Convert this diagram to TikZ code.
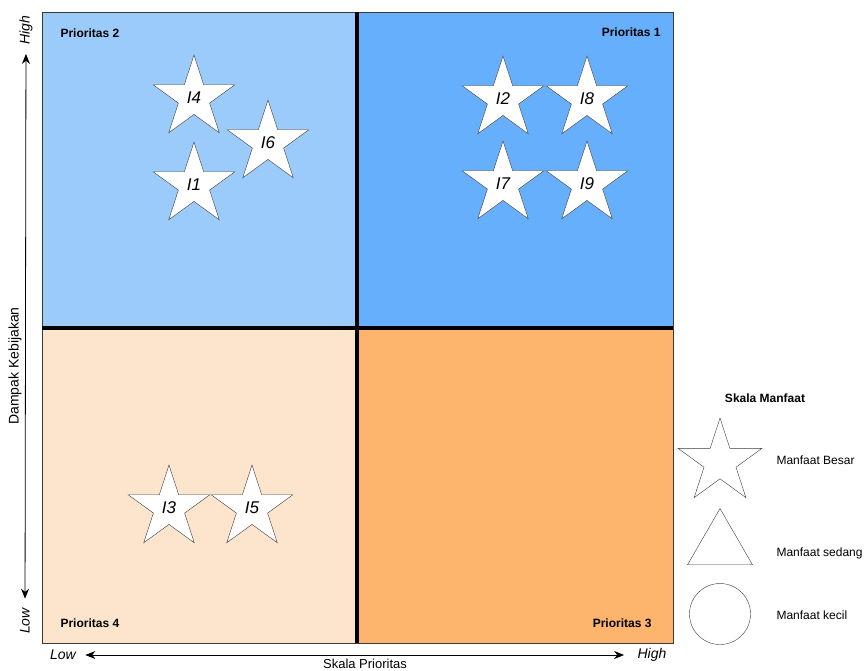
\documentclass[tikz,border=0pt]{standalone}
\usepackage{fontspec}
\setmainfont{Liberation Sans}
\usetikzlibrary{positioning,arrows.meta,shapes.geometric}

\definecolor{quadTL}{HTML}{9BCBFB}
\definecolor{quadTR}{HTML}{66AFFC}
\definecolor{quadBL}{HTML}{FDE5CD}
\definecolor{quadBR}{HTML}{FDB46C}
\definecolor{edgegray}{HTML}{3A3A3A}

\begin{document}
\begin{tikzpicture}[
    x=1pt, y=-1pt,
    starbox/.style={star, star points=5, star point ratio=2.618, draw=edgegray, fill=white, minimum size=86pt, inner sep=0pt, font=\fontsize{17}{17}\selectfont\itshape},
    prio/.style={font=\fontsize{12}{12}\selectfont\bfseries},
    axlabel/.style={font=\fontsize{14}{14}\selectfont\itshape},
    axtitle/.style={font=\fontsize{14}{14}\selectfont},
    legtext/.style={anchor=west, font=\fontsize{12}{12}\selectfont},
    axarr/.style={{Stealth[length=10pt,width=8pt]}-{Stealth[length=10pt,width=8pt]}, line width=0.8pt}
]
\useasboundingbox (0,0) rectangle (866,670);

% Quadrants
\fill[quadTL] (42,12) rectangle (357,328);
\fill[quadTR] (357,12) rectangle (673,328);
\fill[quadBL] (42,328) rectangle (357,643);
\fill[quadBR] (357,328) rectangle (673,643);
\draw[edgegray] (42,12) rectangle (673,643);
\draw[line width=3.5pt] (357,12) -- (357,643);
\draw[line width=3.5pt] (42,328) -- (673,328);

% Quadrant labels
\node[prio, anchor=west] (p2) at (57,33) {Prioritas 2};
\node[prio, anchor=east] (p1) at (664,32) {Prioritas 1};
\node[prio, anchor=west] (p4) at (57,623) {Prioritas 4};
\node[prio, anchor=east] (p3) at (655,623) {Prioritas 3};

% Indicators
\node[starbox] (i4) at (194,98) {I4};
\node[starbox] (i6) at (268,143) {I6};
\node[starbox] (i1) at (194,185) {I1};
\node[starbox] (i2) at (503,99) {I2};
\node[starbox] (i8) at (587,99) {I8};
\node[starbox] (i7) at (503,184) {I7};
\node[starbox] (i9) at (587,184) {I9};
\node[starbox] (i3) at (169,508) {I3};
\node[starbox] (i5) at (252,508) {I5};

% Axes
\node[axlabel, rotate=90] (yhigh) at (26,30) {High};
\node[axlabel, rotate=90] (ylow) at (25,621) {Low};
\node[axtitle, rotate=90] (ytitle) at (15,366) {Dampak Kebijakan};
\draw[axarr, shorten <=6pt, shorten >=6pt] (ylow) -- (yhigh);

\node[axlabel] (xlow) at (63,655) {Low};
\node[axlabel] (xhigh) at (652,655) {High};
\node[axtitle, font=\fontsize{13}{13}\selectfont, inner sep=0pt] (xtitle) at (365,663.5) {Skala Prioritas};
\draw[axarr, shorten <=6pt, shorten >=10pt] (xlow) -- (xhigh);

% Legend
\node[prio] (legtitle) at (765,398) {Skala Manfaat};
\node[starbox, minimum size=88pt, draw=edgegray, fill=none] (lstar) at (720,462) {};
\node[regular polygon, regular polygon sides=3, draw=edgegray, minimum size=75pt, inner sep=0pt] (ltri) at (720,546) {};
\node[circle, draw=edgegray, minimum size=61pt, inner sep=0pt] (lcirc) at (720,614) {};
\node[legtext] (lbig) at (773,460) {Manfaat Besar};
\node[legtext] (lmid) at (773,553) {Manfaat sedang};
\node[legtext] (lsmall) at (773,615) {Manfaat kecil};
\end{tikzpicture}
\end{document}
